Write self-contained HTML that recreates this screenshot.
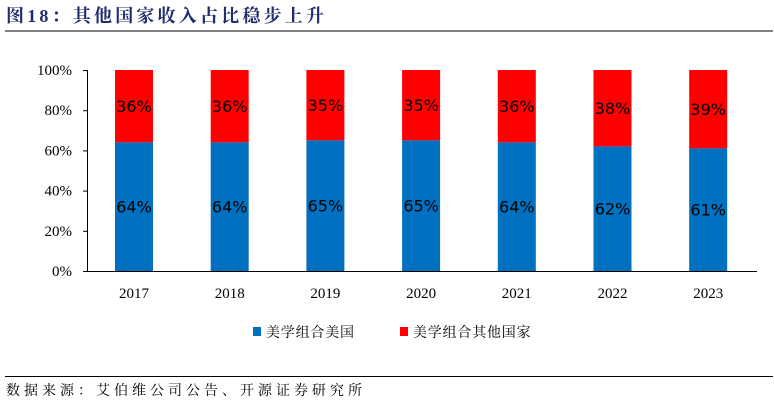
<!DOCTYPE html>
<html><head><meta charset="utf-8"><style>
body{margin:0;width:774px;height:405px;background:#fff;overflow:hidden}
svg{display:block}
</style></head><body>
<svg width="774" height="405">
<text x="6" y="22" font-family="'Liberation Serif','Noto Serif CJK SC',serif" font-weight="bold" font-size="18" letter-spacing="3.2" fill="#1f2d6e">图18：其他国家收入占比稳步上升</text>
<line x1="5" y1="31" x2="773" y2="31" stroke="#000" stroke-width="1"/>
<g id="plot"></g>
<rect x="253" y="327" width="8" height="9" fill="#0070C0"/>
<text x="266" y="337" font-family="'Liberation Serif','Noto Serif CJK SC',serif" font-size="14" letter-spacing="0.8">美学组合美国</text>
<rect x="400" y="327" width="8" height="9" fill="#FF0000"/>
<text x="413" y="337" font-family="'Liberation Serif','Noto Serif CJK SC',serif" font-size="14" letter-spacing="0.8">美学组合其他国家</text>
<line x1="5" y1="376.5" x2="773" y2="376.5" stroke="#000" stroke-width="1"/>
<text x="6" y="395" font-family="'Liberation Serif','Noto Serif CJK SC',serif" font-size="14" letter-spacing="4">数据来源：艾伯维公司公告、开源证券研究所</text>
</svg>
<script>
const years=['2017','2018','2019','2020','2021','2022','2023'];
const usShare=[64,64,65,65,64,62,61];
const otherShare=[36,36,35,35,36,38,39];
const yTicks=[0,20,40,60,80,100];
const NS='http://www.w3.org/2000/svg';
const g=document.getElementById('plot');
const y=v=>271-v*201/100;
const x=i=>134+i*95.7;
function mk(tag,attrs,txt){const e=document.createElementNS(NS,tag);for(const k in attrs)e.setAttribute(k,attrs[k]);if(txt!==undefined)e.textContent=txt;g.appendChild(e);return e;}
let ax=mk('line',{x1:87.5,y1:y(100),x2:87.5,y2:y(0),stroke:'#000'});


let bx=mk('line',{x1:87.5,y1:y(0)+0.5,x2:757,y2:y(0)+0.5,stroke:'#000'});


yTicks.forEach(t=>{
  const tk=mk('line',{x1:83,y1:y(t)+0.5,x2:88,y2:y(t)+0.5,stroke:'#000'});
  
  
  const l=mk('text',{x:72,y:y(t)+5,'text-anchor':'end','font-family':"'Liberation Serif',serif",'font-size':15},t+'%');
  
  
});
years.forEach((yr,i)=>{
  const cx=x(i),w=38;
  const b=mk('rect',{x:cx-w/2,y:y(usShare[i]),width:w,height:y(0)-y(usShare[i]),fill:'#0070C0'});
  
  
  const r=mk('rect',{x:cx-w/2,y:y(usShare[i]+otherShare[i]),width:w,height:y(usShare[i])-y(usShare[i]+otherShare[i]),fill:'#FF0000'});
  
  
  const lu=mk('text',{x:cx,y:(y(0)+y(usShare[i]))/2+6,'text-anchor':'middle','font-family':"'DejaVu Sans',sans-serif",'font-size':16},usShare[i]+'%');
  
  
  const lo=mk('text',{x:cx,y:(y(usShare[i])+y(usShare[i]+otherShare[i]))/2+6,'text-anchor':'middle','font-family':"'DejaVu Sans',sans-serif",'font-size':16},otherShare[i]+'%');
  
  
  const xl=mk('text',{x:cx,y:298,'text-anchor':'middle','font-family':"'Liberation Serif',serif",'font-size':15},yr);
  
  
});
</script>
</body></html>
